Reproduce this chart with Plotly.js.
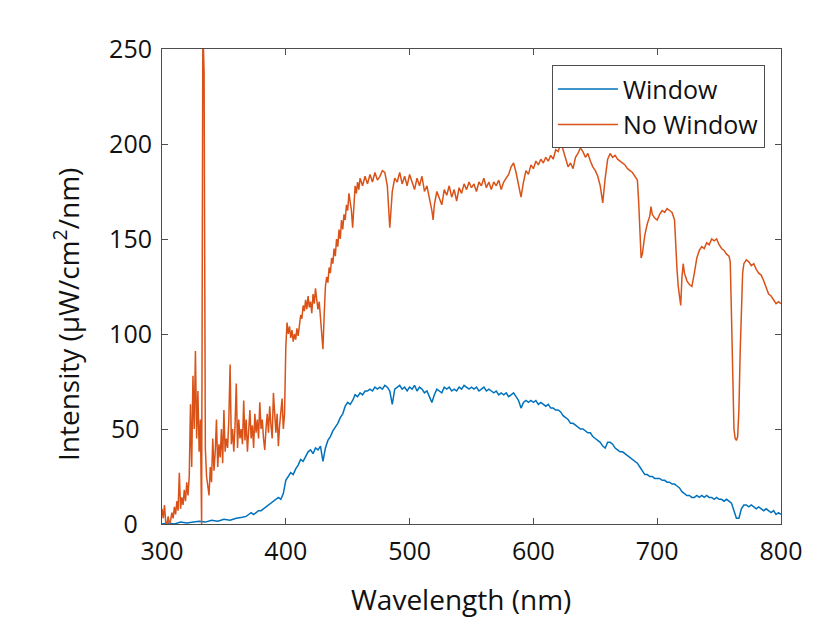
<!DOCTYPE html>
<html>
<head>
<meta charset="utf-8">
<script src="https://cdn.plot.ly/plotly-3.0.1.min.js"></script>
<style>html,body{margin:0;padding:0;background:#fff;}#chart{width:817px;height:638px;}</style>
</head>
<body>
<div id="chart"></div>
<script>
// No Window spectrum (nm, µW/cm²/nm)
var noWinX = [300,301,302,303,304,305,306,307,308,309,310,311,312,313,314,315,316,317,318,319,320,321,322,323,324,325,326,327,328,329,330,331,332,333,334,335,336,337,338,339,340,341,342,343,344,345,346,347,348,349,350,351,352,353,354,355,356,357,358,359,360,361,362,363,364,365,366,367,368,369,370,371,372,373,374,375,376,377,378,379,380,381,382,383,384,385,386,387,388,389,390,391,392,393,394,395,396,397,398,399,400,401,402,403,404,405,406,407,408,409,410,411,412,413,414,415,416,417,418,419,420,421,422,423,424,425,426,427,428,429,430,431,432,433,434,435,436,437,438,439,440,441,442,443,444,445,446,447,448,449,450,451,452,453,454,455,456,457,458,459,460,462,464,466,468,470,472,474,476,478,480,482,484,486,488,490,492,494,496,498,500,502,504,506,508,510,512,514,516,518,519,520,522,524,526,528,530,532,534,536,538,540,542,544,546,548,550,552,554,556,558,560,562,564,566,568,570,572,574,576,578,580,582,584,586,588,590,592,594,596,598,600,602,604,606,608,610,612,614,616,618,620,622,624,626,628,630,632,634,636,638,640,642,644,646,648,650,652,654,656,658,660,662,664,666,668,670,672,674,676,678,680,682,684,685,686,687,688,690,692,694,695,696,698,700,702,704,706,708,710,712,714,715,716,717,718,719,720,721,722,724,726,728,730,732,734,736,738,740,742,744,746,748,750,752,754,756,758,759,760,761,762,763,764,765,766,767,768,769,770,772,774,776,778,780,782,784,786,788,790,792,794,796,798,800];
var noWinY = [8,3,10,1,0,4,0,2,6,3,9,5,12,7,27,8,14,10,18,12,22,15,25,63,30,78,50,91,45,70,38,55,0,262,238,40,25,20,15,30,22,45,28,38,55,30,42,35,50,32,60,38,45,40,55,84,42,50,38,52,74,40,55,45,50,42,65,44,55,38,48,60,45,52,40,58,48,55,45,64,50,55,45,39,50,58,48,62,52,45,69,55,48,58,41,52,60,66,50,58,93,106,100,104,98,102,96,100,97,103,99,105,110,108,115,112,118,113,120,114,117,111,121,116,124,118,113,117,110,100,92,110,125,130,127,135,132,140,137,145,141,150,146,155,150,160,155,163,160,168,165,174,170,165,156,170,178,174,180,176,182,178,183,179,184,180,185,181,183,186,185,178,156,175,182,180,185,179,183,178,184,180,176,182,178,183,175,178,172,165,160,168,175,172,168,176,173,178,172,176,170,177,174,179,176,180,177,179,175,180,178,182,177,180,176,180,178,181,176,180,182,184,188,190,185,178,172,180,186,184,189,187,191,189,192,190,193,191,194,192,197,196,200,197,193,188,190,187,193,195,198,196,193,195,191,188,186,183,178,169,182,192,195,193,194,192,191,190,189,187,186,185,183,181,170,150,140,142,152,158,162,167,163,161,160,163,165,164,166,165,164,160,145,134,125,118,115,130,137,132,128,126,125,132,140,144,146,145,148,147,150,149,150,147,145,144,142,141,138,110,70,50,45,44,46,60,90,120,132,137,139,138,136,137,134,132,131,128,125,121,120,118,116,117,116];

// Window spectrum
var winX = [300,305,310,315,320,325,330,335,340,345,350,355,360,365,368,370,372,374,376,378,380,382,384,386,388,390,392,394,396,398,400,402,404,406,408,410,412,414,416,418,420,422,424,426,428,430,432,434,436,438,440,442,444,446,448,450,452,454,456,458,460,462,464,466,468,470,472,474,476,478,480,482,484,486,488,490,492,494,496,498,500,502,504,506,508,510,512,514,516,518,520,522,524,526,528,530,532,534,536,538,540,542,544,546,548,550,552,554,556,558,560,562,564,566,568,570,572,574,576,578,580,582,584,586,588,590,592,594,596,598,600,602,604,606,608,610,612,614,616,618,620,622,624,626,628,630,632,634,636,638,640,642,644,646,648,650,652,654,656,658,660,662,664,666,668,670,672,674,676,678,680,682,684,686,688,690,692,694,696,698,700,702,704,706,708,710,712,714,716,718,720,722,724,726,728,730,732,734,736,738,740,742,744,746,748,750,752,754,756,758,760,762,764,766,768,770,772,774,776,778,780,782,784,786,788,790,792,794,796,798,800];
var winY = [0,0.5,0,1,0.5,1,1.5,1,2,1.5,2.5,2,3,3.5,4,5,6,5,6,7,7,8,9,10,11,12,13,14,13,16,23,25,27,26,29,31,34,33,36,38,39,37,40,39,41,33,40,44,46,49,51,53,56,58,62,64,63,65,68,67,69,68,70,70,71,70,72,71,72,71,73,72,70,63,71,72,73,71,72,70,72,71,73,70,72,71,69,70,67,64,68,71,70,69,72,71,72,70,71,70,72,71,73,72,71,72,71,72,70,71,72,70,71,70,69,70,68,69,68,69,67,68,69,67,65,61,64,65,64,65,64,65,63,64,63,62,63,61,61,60,60,59,57,56,55,53,53,52,51,50,50,49,48,48,46,45,44,43,41,40,43,43,42,40,39,38,38,37,36,35,34,33,32,30,28,26,26,25,25,24,24,24,23,23,22,22,21,21,20,19,17,16,15,15,14,14,15,14,15,14,15,14,14,13,14,13,13,12,13,12,11,7,3,3,8,10,10,9,10,9,8,9,8,7,8,7,6,7,5,6,5];

var xTicks = [300,400,500,600,700,800];
var xTickText = ['300','400','500','600','700','800'];
var yTicks = [0,50,100,150,200,250];
// labels are centred in the reference; padded with figure/en spaces
var yTickText = ['0\u2007', '50\u2002', '100', '150', '200', '250'];

var font = "Open Sans, Noto Sans, sans-serif";

var traces = [
  {x: winX, y: winY, type: 'scatter', mode: 'lines', name: 'Window',
   line: {color: '#0072BD', width: 1.5}},
  {x: noWinX, y: noWinY, type: 'scatter', mode: 'lines', name: 'No Window',
   line: {color: '#D95319', width: 1.5}}
];

var axisCommon = {
  showgrid: false, zeroline: false, showline: true, linecolor: '#4d4d4d', linewidth: 1,
  mirror: 'ticks', ticks: 'inside', ticklen: 6, tickcolor: '#4d4d4d',
  tickfont: {family: font, size: 25, color: '#111'}
};

var layout = {
  width: 817, height: 638,
  paper_bgcolor: '#ffffff', plot_bgcolor: '#ffffff',
  margin: {l: 162, r: 36, t: 49, b: 114},
  showlegend: true,
  legend: {x: 0.974, xanchor: 'right', y: 0.966, yanchor: 'top',
    bordercolor: '#4d4d4d', borderwidth: 1, bgcolor: '#ffffff',
    itemwidth: 60,
    font: {family: font, size: 25, color: '#111'}, tracegroupgap: 0},
  xaxis: Object.assign({}, axisCommon, {
    range: [300, 800], tickvals: xTicks, ticktext: xTickText,
    ticklabelstandoff: 5
  }),
  yaxis: Object.assign({}, axisCommon, {
    range: [0, 250], tickvals: yTicks, ticktext: yTickText,
    ticklabelstandoff: 4
  }),
  annotations: [{
    text: 'Intensity (µW/cm<sup>2</sup>/nm)', textangle: -90,
    xref: 'paper', yref: 'paper', x: -0.155, y: 0.44,
    xanchor: 'center', yanchor: 'middle', showarrow: false,
    font: {family: font, size: 28, color: '#111'}
  }, {
    text: 'Wavelength (nm)',
    xref: 'paper', yref: 'paper', x: 0.483, y: -0.158,
    xanchor: 'center', yanchor: 'middle', showarrow: false,
    font: {family: font, size: 28, color: '#111'}
  }]
};

Plotly.newPlot('chart', traces, layout, {displayModeBar: false, staticPlot: true});
</script>
</body>
</html>
